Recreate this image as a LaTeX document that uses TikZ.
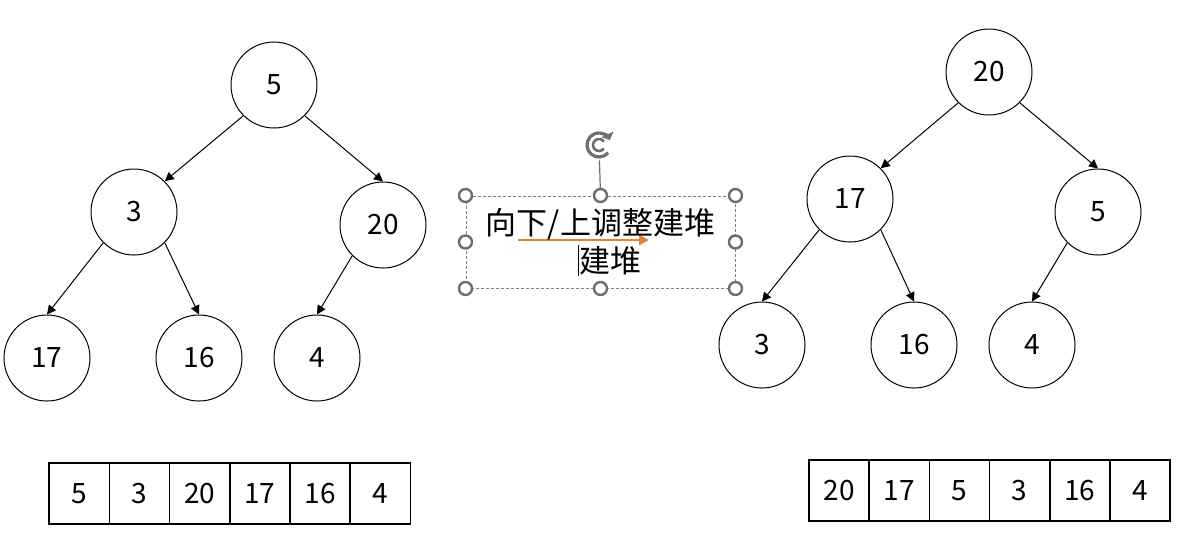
\documentclass[tikz,border=0pt]{standalone}
\usepackage{fontspec}
\setmainfont{Noto Sans CJK SC}
\usetikzlibrary{arrows.meta, positioning}
\definecolor{handlegray}{HTML}{6E6E6E}
\definecolor{boxgray}{HTML}{7F7F7F}
\definecolor{arroworange}{HTML}{ED7D31}

\begin{document}
\begin{tikzpicture}[x=0.5pt, y=-0.5pt,
                    every node/.style={font=\fontsize{14pt}{17pt}\selectfont},
                    heapnode/.style={circle, draw, line width=0.5pt,
                      minimum size=43pt, inner sep=0pt},
                    cell/.style={rectangle, draw, line width=0.8pt, outer sep=0pt,
                      minimum width=30.1pt, minimum height=30.5pt, inner sep=0pt},
                    edge/.style={-{Triangle[length=4.5pt, width=4.5pt]}, line width=0.5pt},
                    handle/.style={circle, draw=handlegray, fill=white, line width=1.2pt,
                      minimum size=6.5pt, inner sep=0pt}]
  \useasboundingbox (0,0) rectangle (1203,559);

  % heap before
  \node[heapnode] (l5)  at (274,85)  {5};
  \node[heapnode] (l3)  at (134,212) {3};
  \node[heapnode] (l20) at (383,225) {20};
  \node[heapnode] (l17) at (47,358)  {17};
  \node[heapnode] (l16) at (199,358) {16};
  \node[heapnode] (l4)  at (317,358) {4};
  \draw[edge] (l5.south west) -- (l3.north east);
  \draw[edge] (l5.south east) -- (l20.north);
  \draw[edge] (l3.south west) -- (l17.north);
  \draw[edge] (l3.south east) -- (l16.north);
  \draw[edge] (l20.south west) -- (l4.north);

  % heap after
  \node[heapnode] (r20) at (989,72)   {20};
  \node[heapnode] (r17) at (850,199)  {17};
  \node[heapnode] (r5)  at (1098,212) {5};
  \node[heapnode] (r3)  at (762,345)  {3};
  \node[heapnode] (r16) at (914,345)  {16};
  \node[heapnode] (r4)  at (1032,345) {4};
  \draw[edge] (r20.south west) -- (r17.north east);
  \draw[edge] (r20.south east) -- (r5.north);
  \draw[edge] (r17.south west) -- (r3.north);
  \draw[edge] (r17.south east) -- (r16.north);
  \draw[edge] (r5.south west) -- (r4.north);

  % arrays
  \node[cell] (a1) at (79.2,493.5) {5};
  \node[cell, right=0pt of a1] (a2) {3};
  \node[cell, right=0pt of a2] (a3) {20};
  \node[cell, right=0pt of a3] (a4) {17};
  \node[cell, right=0pt of a4] (a5) {16};
  \node[cell, right=0pt of a5] (a6) {4};

  \node[cell] (b1) at (839,490.5) {20};
  \node[cell, right=0pt of b1] (b2) {17};
  \node[cell, right=0pt of b2] (b3) {5};
  \node[cell, right=0pt of b3] (b4) {3};
  \node[cell, right=0pt of b4] (b5) {16};
  \node[cell, right=0pt of b5] (b6) {4};

  % selected text box
  \coordinate (arrs) at (518,240);
  \coordinate (arre) at (649,240);
  \draw[arroworange, line width=1.4pt, -{Triangle[length=5pt, width=5pt]}] (arrs) -- (arre);
  \node[rectangle, draw=boxgray, line width=0.5pt, dash pattern=on 1.5pt off 1pt,
        minimum width=134.5pt, minimum height=46pt, align=center,
        font=\fontsize{15.5pt}{19pt}\selectfont]
    (tbox) at (600.5,242) {向下/上调整建堆\\\hspace*{9pt}\rule[-0.12em]{0.9pt}{1em}建堆};
  \node[circle, inner sep=0pt, minimum size=15pt] (rot) at (599,145) {};
  \draw[handlegray, line width=0.6pt] (tbox.north) -- (rot);
  \draw[handlegray, line width=1.6pt, -{Triangle[length=3pt, width=6.5pt]}]
    (rot.center) ++(-40:6pt) arc[start angle=-40, end angle=-335, radius=6pt];
  \draw[handlegray, line width=1.3pt]
    (rot.center) ++(35:3pt) arc[start angle=35, end angle=325, radius=3pt];
  \node[handle] (h1) at (tbox.north west) {};
  \node[handle] (h2) at (tbox.north) {};
  \node[handle] (h3) at (tbox.north east) {};
  \node[handle] (h4) at (tbox.west) {};
  \node[handle] (h5) at (tbox.east) {};
  \node[handle] (h6) at (tbox.south west) {};
  \node[handle] (h7) at (tbox.south) {};
  \node[handle] (h8) at (tbox.south east) {};
\end{tikzpicture}
\end{document}
